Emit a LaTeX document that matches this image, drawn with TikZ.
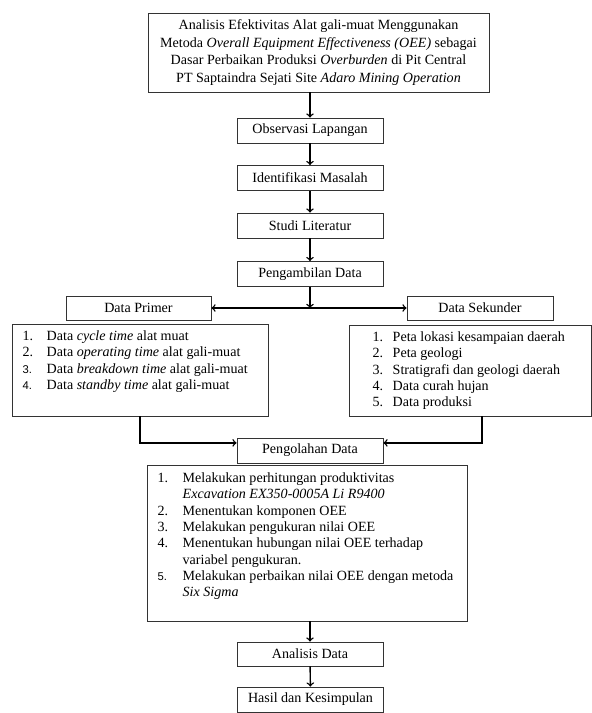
\documentclass[tikz,border=0pt]{standalone}
\usepackage{fontspec}
\setmainfont{Liberation Serif}
\newfontfamily\numfont{Liberation Sans}
\usepackage{tikz}

\begin{document}
\begin{tikzpicture}[x = 0.025cm, y = -0.025cm, line width = 1pt, >=to,
                    box/.style = {draw = black!80, line width = 0.6pt, inner sep = 0pt,
                                  minimum width = 3.65cm, minimum height = 0.625cm,
                                  font = \fontsize{10}{12}\selectfont},
                    listbox/.style = {draw = black!80, line width = 0.6pt, inner sep = 0pt},
                    listtext/.style = {anchor = north west, inner sep = 0pt,
                                       font = \fontsize{10}{11.6}\selectfont}]
      \useasboundingbox (0, 0) rectangle (592, 713);
      \node [box, minimum width = 8.525cm, minimum height = 1.975cm, align = center,
             font = \fontsize{10}{12.6}\selectfont] (judul) at (318.5, 52.5)
            {Analisis Efektivitas Alat gali-muat Menggunakan\\
             Metoda \textit{Overall Equipment Effectiveness (OEE)} sebagai\\
             Dasar Perbaikan Produksi \textit{Overburden} di Pit Central\\
             PT Saptaindra Sejati Site \textit{Adaro Mining Operation}};
      \node [box] (observasi) at (310, 130.5) {Observasi Lapangan};
      \node [box] (identifikasi) at (310, 178) {Identifikasi Masalah};
      \node [box] (studi) at (310, 225.5) {Studi Literatur};
      \node [box] (pengambilan) at (310, 274) {Pengambilan Data};
      \coordinate (cabang) at (310, 308);
      \node [box, minimum width = 3.625cm, minimum height = 0.6cm] (primer) at (138.5, 308) {Data Primer};
      \node [box, minimum height = 0.6cm] (sekunder) at (480, 308) {Data Sekunder};
      \node [listbox, minimum width = 6.4cm, minimum height = 2.3cm] (primerlist) at (140, 370) {};
      \node [listtext] (primerteks) at (22, 328.5)
            {\begin{tabular}{@{}p{0.6cm}@{}l@{}}
             1. & Data \textit{cycle time} alat muat\\
             2. & Data \textit{operating time} alat gali-muat\\
             {\numfont\footnotesize 3.} & Data \textit{breakdown time} alat gali-muat\\
             {\numfont\footnotesize 4.} & Data \textit{standby time} alat gali-muat
             \end{tabular}};
      \node [listbox, minimum width = 6.05cm, minimum height = 2.275cm] (sekunderlist) at (470, 370.5) {};
      \node [listtext] (sekunderteks) at (372, 329.5)
            {\begin{tabular}{@{}p{0.5cm}@{}l@{}}
             1. & Peta lokasi kesampaian daerah\\
             2. & Peta geologi\\
             3. & Stratigrafi dan geologi daerah\\
             4. & Data curah hujan\\
             5. & Data produksi
             \end{tabular}};
      \node [box] (pengolahan) at (310, 450.5) {Pengolahan Data};
      \node [listbox, minimum width = 8cm, minimum height = 3.9cm] (pengolahanlist) at (307, 543) {};
      \node [listtext] (pengolahanteks) at (157, 470.5)
            {\begin{tabular}{@{}p{0.625cm}@{}l@{}}
             1. & Melakukan perhitungan produktivitas\\
                & \textit{Excavation EX350-0005A Li R9400}\\
             2. & Menentukan komponen OEE\\
             3. & Melakukan pengukuran nilai OEE\\
             4. & Menentukan hubungan nilai OEE terhadap\\
                & variabel pengukuran.\\
             {\numfont\footnotesize 5.} & Melakukan perbaikan nilai OEE dengan metoda\\
                & \textit{Six Sigma}
             \end{tabular}};
      \node [box, minimum height = 0.6cm] (analisis) at (310, 654) {Analisis Data};
      \node [box] (hasil) at (310.5, 699.5) {Hasil dan Kesimpulan};
      \draw [->] (observasi.north |- judul.south) -- (observasi);
      \draw [->] (observasi) -- (identifikasi);
      \draw [->] (identifikasi) -- (studi);
      \draw [->] (studi) -- (pengambilan);
      \draw [->] (pengambilan) -- (cabang);
      \draw [->] (cabang) -- (primer);
      \draw [->] (cabang) -- (sekunder);
      \draw [->] (primerlist.south) |- ([yshift = 0.19cm]pengolahan.west);
      \draw [->] ([xshift = 0.3cm]sekunderlist.south) |- ([yshift = 0.19cm]pengolahan.east);
      \draw [->] (analisis.north |- pengolahanlist.south) -- (analisis);
      \draw [->] (analisis) -- (hasil);
    \end{tikzpicture}
\end{document}
